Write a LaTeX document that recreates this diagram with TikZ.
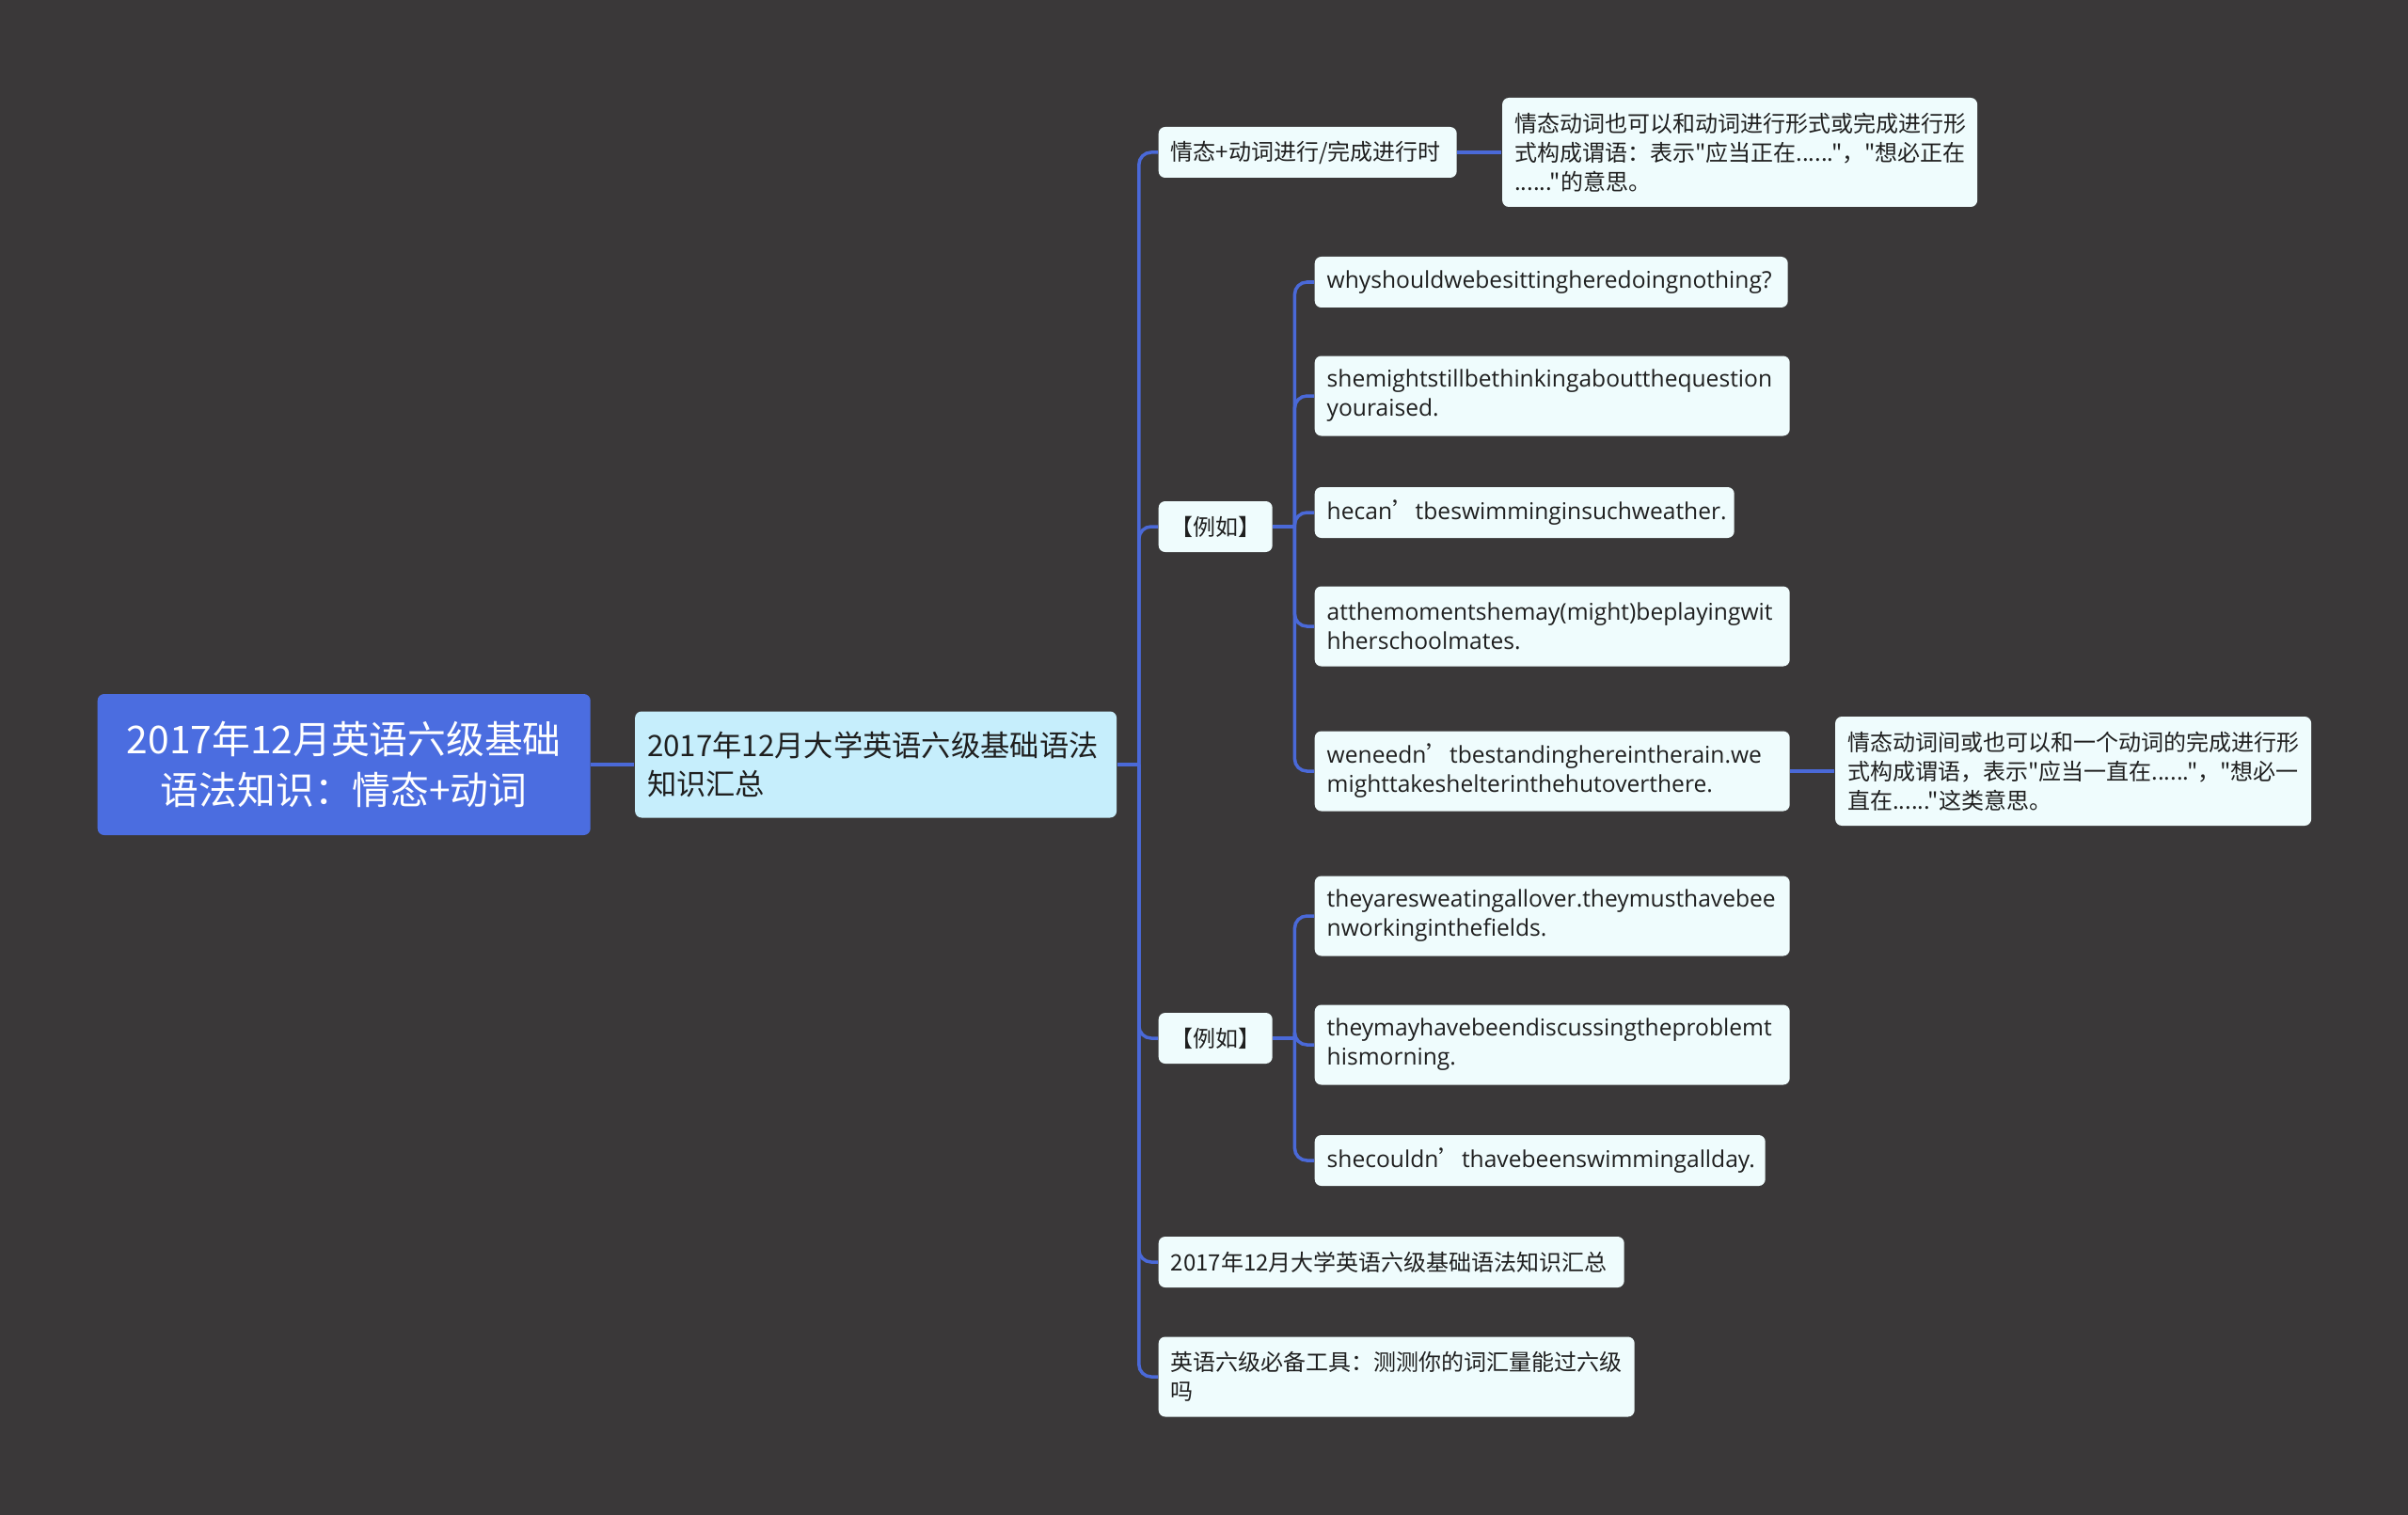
\documentclass[tikz,border=0pt]{standalone}
\usepackage{fontspec}
\setmainfont{Noto Sans CJK SC}[Ligatures=TeXOff]
\newfontfamily\cjkfont{Noto Sans CJK SC}[Ligatures=TeXOff]
\newfontfamily\latinfont{Open Sans}
\usetikzlibrary{positioning,calc}
\definecolor{bgGray}{HTML}{3A3839}
\definecolor{rootBlue}{HTML}{4B6DE0}
\definecolor{subCyan}{HTML}{C6EEFC}
\definecolor{leafWhite}{HTML}{EFFCFD}
\definecolor{linkBlue}{HTML}{4A69D8}
\colorlet{textDark}{black!88}
\newcommand{\cq}{{\cjkfont ’}}

\begin{document}
\begin{tikzpicture}[
    box/.style={rounded corners=0.07cm, inner xsep=0.13cm, inner ysep=0pt, anchor=west, align=left},
    leaf/.style={box, fill=leafWhite, text=textDark, minimum height=0.54cm, font=\fontsize{6.83pt}{8.8pt}\selectfont},
    enleaf/.style={leaf, font=\latinfont\fontsize{7pt}{8.8pt}\selectfont},
    link/.style={draw=linkBlue, line width=0.035cm, rounded corners=0.13cm}]
        \fill[bgGray] (0,0) rectangle (25.6,-16.11);

        % root and summary node
        \node[box, fill=rootBlue, text=white, align=center, text width=4.98cm, minimum height=1.5cm,
            font=\fontsize{11.6pt}{15.6pt}\selectfont] (root) at (1.03,-8.13)
            {2017年12月英语六级基础\\语法知识：情态+动词};
        \node[box, fill=subCyan, text=textDark, text width=4.86cm, minimum height=1.13cm,
            font=\fontsize{8.9pt}{11.7pt}\selectfont, right=0.46cm of root] (sub)
            {2017年12月大学英语六级基础语法\\知识汇总};

        % first level
        \node[leaf, text width=2.91cm] (modal) at (12.31,-1.62) {情态+动词进行/完成进行时};
        \node[leaf, text width=4.79cm, minimum height=1.16cm, right=0.47cm of modal] (modaldesc)
            {情态动词也可以和动词进行形式或完成进行形\\式构成谓语：表示"应当正在......"，"想必正在\\......"的意思。};
        \node[leaf, text width=0.96cm, align=center, inner xsep=0.125cm] (ex1) at (12.31,-5.60) {【例如】};
        \node[leaf, text width=0.96cm, align=center, inner xsep=0.125cm] (ex2) at (12.31,-11.04) {【例如】};
        \node[leaf, text width=4.69cm] (summary) at (12.31,-13.42) {2017年12月大学英语六级基础语法知识汇总};
        \node[leaf, text width=4.80cm, minimum height=0.85cm] (tool) at (12.31,-14.64)
            {英语六级必备工具：测测你的词汇量能过六级\\吗};

        % examples
        \node[enleaf, text width=4.77cm] (s1) at (13.97,-3.00) {whyshouldwebesittingheredoingnothing?};
        \node[enleaf, text width=4.79cm, minimum height=0.85cm] (s2) at (13.97,-4.21)
            {shemightstillbethinkingaboutthequestion\\youraised.};
        \node[enleaf, text width=4.20cm] (s3) at (13.97,-5.45) {hecan\cq tbeswimminginsuchweather.};
        \node[enleaf, text width=4.79cm, minimum height=0.85cm] (s4) at (13.97,-6.66)
            {atthemomentshemay(might)beplayingwit\\hherschoolmates.};
        \node[enleaf, text width=4.79cm, minimum height=0.85cm] (s5) at (13.97,-8.20)
            {weneedn\cq tbestandinghereintherain.we\\mighttakeshelterinthehutoverthere.};
        \node[leaf, text width=4.80cm, minimum height=1.16cm, right=0.47cm of s5] (s5desc)
            {情态动词间或也可以和一个动词的完成进行形\\式构成谓语，表示"应当一直在......"，"想必一\\直在......"这类意思。};
        \node[enleaf, text width=4.79cm, minimum height=0.85cm] (s6) at (13.97,-9.74)
            {theyaresweatingallover.theymusthavebee\\nworkinginthefields.};
        \node[enleaf, text width=4.79cm, minimum height=0.85cm] (s7) at (13.97,-11.11)
            {theymayhavebeendiscussingtheproblemt\\hismorning.};
        \node[enleaf, text width=4.53cm] (s8) at (13.97,-12.34) {shecouldn\cq thavebeenswimmingallday.};

        % connectors
        \coordinate[right=0.23cm of sub.east] (hub);
        \draw[link] (root.east) -- (sub.west);
        \draw[link] (sub.east) -- (hub);
        \foreach \n in {modal,ex1,ex2,summary,tool}
            \draw[link] (hub) |- (\n.west);
        \draw[link] (modal.east) -- (modaldesc.west);

        \coordinate[right=0.23cm of ex1.east] (hubA);
        \draw[link] (ex1.east) -- (hubA);
        \foreach \n in {s1,s2,s3,s4,s5}
            \draw[link] (hubA) |- (\n.west);
        \draw[link] (s5.east) -- (s5desc.west);

        \coordinate[right=0.23cm of ex2.east] (hubB);
        \draw[link] (ex2.east) -- (hubB);
        \foreach \n in {s6,s7,s8}
            \draw[link] (hubB) |- (\n.west);
    \end{tikzpicture}
\end{document}
